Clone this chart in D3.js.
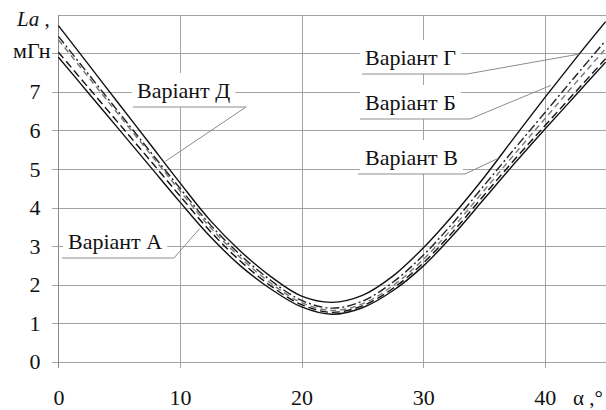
<!DOCTYPE html>
<html>
<head>
<meta charset="utf-8">
<script src="https://cdn.jsdelivr.net/npm/d3@7"></script>
<style>
  html, body { margin: 0; padding: 0; background: #fff; }
  svg { display: block; }
  svg text { font-family: "Liberation Serif", "Tinos", "Noto Serif", "DejaVu Serif", serif !important; fill: #111; }
</style>
</head>
<body>
<svg id="chart" width="606" height="410" font-family="Liberation Serif, DejaVu Serif, serif"></svg>
<script>
// Rotor angle, degrees
const alpha = [0, 2.5, 5, 7.5, 10, 12.5, 15, 17.5, 20, 22.5, 25, 27.5, 30, 32.5, 35, 37.5, 40, 42.5, 45];

// Phase inductance La, mH, for each design variant
const variantA = [7.90, 6.96, 6.02, 5.08, 4.14, 3.24, 2.48, 1.88, 1.42, 1.23, 1.40, 1.84, 2.48, 3.30, 4.22, 5.14, 6.03, 6.90, 7.77];
const variantB = [8.03, 7.10, 6.17, 5.24, 4.30, 3.38, 2.60, 1.96, 1.48, 1.28, 1.45, 1.90, 2.56, 3.39, 4.32, 5.24, 6.12, 6.99, 7.86];
const variantV = [8.35, 7.37, 6.39, 5.41, 4.43, 3.48, 2.69, 2.03, 1.53, 1.33, 1.50, 1.97, 2.65, 3.50, 4.44, 5.38, 6.30, 7.22, 8.12];
const variantG = [8.44, 7.45, 6.46, 5.47, 4.50, 3.55, 2.76, 2.10, 1.59, 1.39, 1.57, 2.06, 2.76, 3.62, 4.57, 5.52, 6.46, 7.40, 8.33];
const variantD = [8.72, 7.70, 6.68, 5.66, 4.64, 3.66, 2.86, 2.20, 1.70, 1.54, 1.72, 2.22, 2.95, 3.82, 4.78, 5.82, 6.85, 7.85, 8.82];

const xTicks = [0, 10, 20, 30, 40];
const yTicks = [0, 1, 2, 3, 4, 5, 6, 7];
const yGrid = [0, 1, 2, 3, 4, 5, 6, 7, 8, 9];

const series = [
  { name: "Варіант А", values: variantA, stroke: "#111", dash: null },
  { name: "Варіант Б", values: variantB, stroke: "#111", dash: "8,4" },
  { name: "Варіант В", values: variantV, stroke: "#777", dash: "6,4" },
  { name: "Варіант Г", values: variantG, stroke: "#222", dash: "9,3,2,3" },
  { name: "Варіант Д", values: variantD, stroke: "#111", dash: null }
];

// Callout boxes: text anchor, leader underline and the point (in data units) it reaches
const callouts = [
  { text: "Варіант Д", x: 137, y: 98, ulLeft: 133, ulRight: 246, to: [8.8, 5.2] },
  { text: "Варіант А", x: 68, y: 249, ulLeft: 62, ulRight: 174, to: [11.6, 3.45] },
  { text: "Варіант Г", x: 365, y: 65, ulLeft: 362, ulRight: 467, to: [42.8, 7.98] },
  { text: "Варіант Б", x: 365, y: 110, ulLeft: 360, ulRight: 470, to: [40.5, 7.17] },
  { text: "Варіант В", x: 365, y: 165, ulLeft: 358, ulRight: 465, to: [36.2, 5.28] }
];

const svg = d3.select("#chart");
const x = d3.scaleLinear().domain([0, 45]).range([58.4, 605.6]);
const y = d3.scaleLinear().domain([0, 9]).range([361.7, 14.8]);

const gridColor = "#a3a3a3";
const tick = 6;

// grid
const grid = svg.append("g").attr("stroke", gridColor).attr("stroke-width", 1).attr("shape-rendering", "crispEdges");
grid.selectAll("line.h").data(yGrid).join("line")
  .attr("x1", d => d === 9 ? x(0) : x(0) - tick)
  .attr("x2", x(45))
  .attr("y1", d => Math.round(y(d)) + 0.5)
  .attr("y2", d => Math.round(y(d)) + 0.5);
grid.selectAll("line.v").data(xTicks).join("line")
  .attr("x1", d => Math.round(x(d)) + 0.5)
  .attr("x2", d => Math.round(x(d)) + 0.5)
  .attr("y1", y(9))
  .attr("y2", y(0) + tick)
  .attr("stroke", d => d === 0 ? "#8a8a8a" : gridColor);

// tick labels via d3 axes (tick marks are already drawn by the grid)
const yAxis = svg.append("g")
  .attr("transform", `translate(${x(0)},0)`)
  .call(d3.axisLeft(y).tickValues(yTicks).tickFormat(d3.format("d")).tickSize(tick).tickPadding(12));
yAxis.attr("font-family", null).attr("font-size", 22);
yAxis.select(".domain").remove();
yAxis.selectAll(".tick line").remove();

const xAxis = svg.append("g")
  .attr("transform", `translate(0,${y(0)})`)
  .call(d3.axisBottom(x).tickValues(xTicks).tickFormat(d3.format("d")).tickSize(tick).tickPadding(22));
xAxis.attr("font-family", null).attr("font-size", 22);
xAxis.select(".domain").remove();
xAxis.selectAll(".tick line").remove();

// axis titles
const yTitle = svg.append("text").attr("x", 17).attr("y", 26).attr("font-size", 21);
yTitle.append("tspan").attr("font-style", "italic").text("La");
yTitle.append("tspan").text(" ,");
svg.append("text").attr("x", 13).attr("y", 58).attr("font-size", 22).text("мГн");
svg.append("text").attr("x", 603).attr("y", 405).attr("font-size", 21)
  .attr("text-anchor", "end").text("α ,°");

// curves
const line = d3.line()
  .x((d, i) => x(alpha[i]))
  .y(d => y(d))
  .curve(d3.curveCatmullRom.alpha(0.5));

svg.append("g").attr("fill", "none")
  .selectAll("path").data(series).join("path")
  .attr("d", s => line(s.values))
  .attr("stroke", s => s.stroke)
  .attr("stroke-width", 1.4)
  .attr("stroke-dasharray", s => s.dash);

// callouts
const cg = svg.append("g");
callouts.forEach(c => {
  const g = cg.append("g");
  const t = g.append("text").attr("x", c.x).attr("y", c.y).attr("font-size", 22).text(c.text);
  const bb = t.node().getBBox();
  g.insert("rect", "text")
    .attr("x", bb.x - 5).attr("y", c.y - 25)
    .attr("width", bb.width + 10).attr("height", 34)
    .attr("fill", "#fff");
  const uy = c.y + 9;
  g.append("path")
    .attr("d", `M${c.ulLeft},${uy}H${c.ulRight}L${x(c.to[0])},${y(c.to[1])}`)
    .attr("fill", "none").attr("stroke", "#8c8c8c").attr("stroke-width", 1);
});
</script>
</body>
</html>
